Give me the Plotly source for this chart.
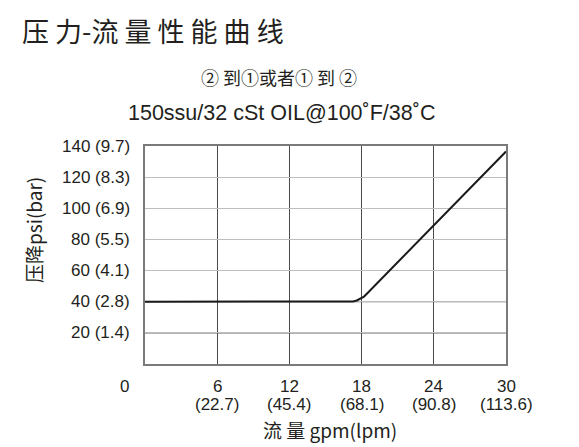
import plotly.graph_objects as go

# Data
flow_gpm = [0, 17.0, 17.3, 17.6, 17.9, 18.2, 18.6, 24.0, 30.0]
pressure_psi = [40, 40, 40.2, 40.8, 41.8, 43.3, 46.4, 89.4, 136.5]

x_ticks = [0, 6, 12, 18, 24, 30]
x_tick_line1 = ["0", "6", "12", "18", "24", "30"]
x_tick_line2 = ["", "(22.7)", "(45.4)", "(68.1)", "(90.8)", "(113.6)"]
y_ticks = [20, 40, 60, 80, 100, 120, 140]
y_tick_labels = ["20 (1.4)", "40 (2.8)", "60 (4.1)", "80 (5.5)", "100 (6.9)", "120 (8.3)", "140 (9.7)"]
dark_h_grid = [20, 40]

title_text = "压 力-流 量 性 能 曲 线"
subtitle1 = "② 到①或者① 到 ②"
subtitle2 = "150ssu/32 cSt OIL@100˚F/38˚C"
x_title = "流 量 gpm(lpm)"
y_title = "压降psi(bar)"

LAT = "Liberation Sans, Arial, sans-serif"
CJK = "Noto Sans CJK SC, sans-serif"
TXT = "#231f20"

# page geometry (page body has an 8px margin)
OFF = 8
W, H = 579 - 2 * OFF, 447 - OFF
PL, PT, PR, PB = 145, 146, 506, 364          # plot area in page pixels
L, T = PL - OFF, PT - OFF
R, B = W - (PR - OFF), H - (PB - OFF)
pw, ph = PR - PL, PB - PT

fig = go.Figure()
fig.add_trace(go.Scatter(x=flow_gpm, y=pressure_psi, mode="lines",
                         line=dict(color="#1a1a1a", width=2),
                         hoverinfo="skip", showlegend=False))

fig.update_xaxes(range=[0, 30], tickvals=x_ticks[1:-1], showticklabels=False,
                 showgrid=True, gridcolor="#4a4a4a", gridwidth=1.2,
                 showline=True, linecolor="#7a7a7a", linewidth=2, mirror=True,
                 zeroline=False, ticks="")
fig.update_yaxes(range=[0, 140], tickvals=y_ticks[:-1], showticklabels=False,
                 showgrid=True, gridcolor="#bdbdbd", gridwidth=1.2,
                 showline=True, linecolor="#7a7a7a", linewidth=2, mirror=True,
                 zeroline=False, ticks="")

shapes = [dict(type="line", xref="paper", yref="y", x0=0, x1=1, y0=v, y1=v,
               line=dict(color="#6a6a6a", width=1.2), layer="below")
          for v in dark_h_grid]

annotations = []
for xv, l1, l2 in zip(x_ticks, x_tick_line1, x_tick_line2):
    shift = -21 if xv == 0 else 0
    annotations.append(dict(x=xv, y=0, xref="x", yref="y", text=l1, showarrow=False,
                            xanchor="center", yanchor="middle", xshift=shift, yshift=-(386 - PB),
                            font=dict(family=LAT, size=17, color=TXT)))
    if l2:
        annotations.append(dict(x=xv, y=0, xref="x", yref="y", text=l2, showarrow=False,
                                xanchor="center", yanchor="middle", yshift=-(404 - PB),
                                font=dict(family=LAT, size=17, color=TXT)))
for yv, lab in zip(y_ticks, y_tick_labels):
    annotations.append(dict(x=0, y=yv, xref="x", yref="y", text=lab, showarrow=False,
                            xanchor="right", yanchor="middle", xshift=-13,
                            font=dict(family=LAT, size=17, color=TXT)))

page_texts = [
    dict(px=20, py=30, anchor="left", text=title_text, font=dict(family=CJK, size=27, color=TXT), angle=0),
    dict(px=279, py=77, anchor="center", text=subtitle1, font=dict(family=CJK, size=18, color=TXT), angle=0),
    dict(px=281, py=113, anchor="center", text=subtitle2, font=dict(family=LAT, size=21.5, color=TXT), angle=0),
    dict(px=330, py=429, anchor="center", text=x_title, font=dict(family=CJK, size=19, color=TXT), angle=0),
    dict(px=33, py=230, anchor="center", text=y_title, font=dict(family=CJK, size=19, color=TXT), angle=-90),
]
for t in page_texts:
    annotations.append(dict(xref="paper", yref="paper",
                            x=(t["px"] - PL) / pw, y=1 - (t["py"] - PT) / ph,
                            xanchor=t["anchor"], yanchor="middle", text=t["text"],
                            showarrow=False, font=t["font"], textangle=t["angle"]))

fig.update_layout(width=W, height=H, margin=dict(l=L, r=R, t=T, b=B),
                  paper_bgcolor="white", plot_bgcolor="white",
                  annotations=annotations, shapes=shapes)

fig.write_html("out.html")
